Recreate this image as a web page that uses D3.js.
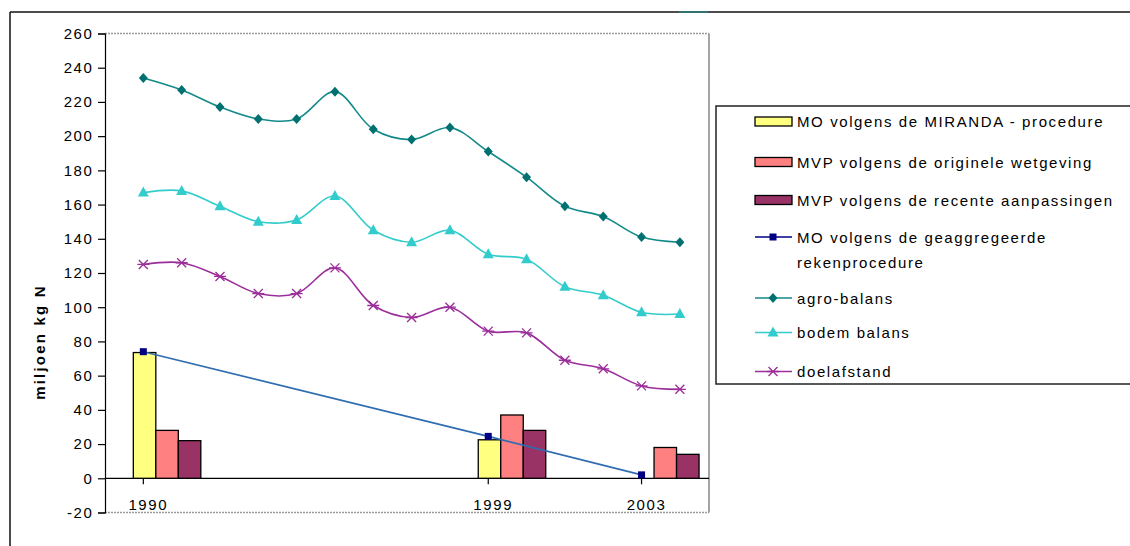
<!DOCTYPE html>
<html>
<head>
<meta charset="utf-8">
<script src="https://cdn.jsdelivr.net/npm/d3@7"></script>
<style>
  html,body{margin:0;padding:0;background:#fff;}
  svg{display:block;font-family:"Liberation Sans",Arial,sans-serif;}
  .tick-label{font-size:15px;letter-spacing:1.6px;fill:#000;}
  .legend-label{font-size:15px;letter-spacing:1.6px;fill:#000;}
</style>
</head>
<body>
<div id="chart"></div>
<script>
/* N-surplus chart: bars for 3 procedures, smoothed lines for the balances. */
var years=[1990,1991,1992,1993,1994,1995,1996,1997,1998,1999,2000,2001,2002,2003,2004];
var agroBalans=[234,227,217,210,210,226,204,198,205,191,176,159,153,141,138];
var bodemBalans=[167,168,159,150,151,165,145,138,145,131,128,112,107,97,96];
var doelafstand=[125,126,118,108,108,123,101,94,100,86,85,69,64,54,52];

var barYears=[1990,1999,2003];
var moMiranda=[73.5,22.5,null];
var mvpOrigineel=[28,37,18];
var mvpRecent=[22,28,14];

var moGeaggr=[74,24.5,2];

var yTicks=[-20,0,20,40,60,80,100,120,140,160,180,200,220,240,260];
var xLabelYears=[1990,1999,2003];

var W=1130,H=546;
var svg=d3.select("#chart").append("svg").attr("width",W).attr("height",H);

// outer frame (only top and left visible)
svg.append("line").attr("x1",10).attr("y1",12).attr("x2",W).attr("y2",12).attr("stroke","#111").attr("stroke-width",1.5);
svg.append("line").attr("x1",10).attr("y1",12).attr("x2",10).attr("y2",H).attr("stroke","#111").attr("stroke-width",1.5);
svg.append("line").attr("x1",679).attr("y1",12).attr("x2",708).attr("y2",12).attr("stroke","#2a7f80").attr("stroke-width",1.5);

var L=105,R=709,T=33.5,B=512.5;
var x=d3.scaleLinear().domain([1989,2004.76]).range([L,R]);
var y=d3.scaleLinear().domain([-20,260]).range([B,T]);

// plot area border
svg.append("line").attr("x1",L).attr("x2",R).attr("y1",T).attr("y2",T).attr("stroke","#9a9a9a").attr("stroke-width",1.5).attr("stroke-dasharray","2,1");
svg.append("line").attr("x1",L).attr("x2",R).attr("y1",B).attr("y2",B).attr("stroke","#9a9a9a").attr("stroke-width",1.5).attr("stroke-dasharray","2,1");
svg.append("line").attr("x1",R).attr("x2",R).attr("y1",T).attr("y2",B).attr("stroke","#9a9a9a").attr("stroke-width",1.8);

// y axis (plain hyphen for negatives, as in the source)
var yAxis=d3.axisLeft(y).tickValues(yTicks).tickSize(7).tickPadding(6).tickFormat(function(d){return String(d);});
var ga=svg.append("g").attr("transform","translate("+L+",0)").call(yAxis);
ga.select(".domain").attr("stroke","#000").attr("stroke-width",1.2);
ga.selectAll(".tick line").attr("stroke","#000").attr("stroke-width",1.2);
ga.selectAll(".tick text").attr("class","tick-label").attr("font-family",null).attr("font-size",null).attr("dx","1.5px");

// zero line and x ticks
svg.append("line").attr("x1",L).attr("x2",R).attr("y1",y(0)).attr("y2",y(0)).attr("stroke","#000").attr("stroke-width",1.2);
var xt=svg.append("g").selectAll("g").data(xLabelYears).enter().append("g");
xt.append("line").attr("x1",function(d){return x(d);}).attr("x2",function(d){return x(d);})
  .attr("y1",y(0)).attr("y2",y(0)+6).attr("stroke","#000").attr("stroke-width",1.2);
xt.append("text").attr("class","tick-label").attr("text-anchor","middle")
  .attr("x",function(d){return x(d)+5;}).attr("y",510).text(function(d){return d;});

// axis title
svg.append("text").attr("transform","translate(45,342) rotate(-90)").attr("text-anchor","middle")
  .style("font-size","15px").style("font-weight","bold").style("letter-spacing","2.2px").text("miljoen kg N");

// bars
var barSeries=[
  {name:"MO volgens de MIRANDA - procedure",values:moMiranda,color:"#ffff80"},
  {name:"MVP volgens de originele wetgeving",values:mvpOrigineel,color:"#ff8080"},
  {name:"MVP volgens de recente aanpassingen",values:mvpRecent,color:"#993366"}
];
var inner=d3.scaleBand().domain(barSeries.map(function(s){return s.name;})).range([-10,57.5]);
barSeries.forEach(function(s){
  var pts=barYears.map(function(yr,i){return {year:yr,v:s.values[i]};}).filter(function(d){return d.v!=null;});
  svg.append("g").selectAll("rect").data(pts).enter().append("rect")
    .attr("x",function(d){return x(d.year)+inner(s.name);})
    .attr("width",inner.bandwidth())
    .attr("y",function(d){return y(d.v);})
    .attr("height",function(d){return y(0)-y(d.v);})
    .attr("fill",s.color).attr("stroke","#000").attr("stroke-width",1.3);
});

// lines
var smooth=d3.line().x(function(d){return x(d[0]);}).y(function(d){return y(d[1]);}).curve(d3.curveCatmullRom.alpha(0.5));
var straight=d3.line().x(function(d){return x(d[0]);}).y(function(d){return y(d[1]);});

function marker(g,type,color,cx,cy){
  if(type==="square"){
    g.append("rect").attr("x",cx-3.5).attr("y",cy-3.5).attr("width",7).attr("height",7).attr("fill",color);
  }else if(type==="diamond"){
    g.append("path").attr("d","M"+cx+","+(cy-5)+"L"+(cx+4.5)+","+cy+"L"+cx+","+(cy+5)+"L"+(cx-4.5)+","+cy+"Z").attr("fill",color);
  }else if(type==="triangle"){
    g.append("path").attr("d","M"+cx+","+(cy-6)+"L"+(cx+5.5)+","+(cy+4)+"L"+(cx-5.5)+","+(cy+4)+"Z").attr("fill",color);
  }else if(type==="x"){
    g.append("path").attr("d","M"+(cx-4.5)+","+(cy-4.5)+"L"+(cx+4.5)+","+(cy+4.5)+"M"+(cx+4.5)+","+(cy-4.5)+"L"+(cx-4.5)+","+(cy+4.5)+"M"+(cx-6)+","+cy+"L"+(cx+6)+","+cy)
      .attr("stroke",color).attr("stroke-width",1.3).attr("fill","none");
  }
}

var lineSeries=[
  {name:"MO volgens de geaggregeerde",name2:"rekenprocedure",xs:barYears,values:moGeaggr,color:"#2f6db0",mcolor:"#000080",marker:"square",gen:straight},
  {name:"agro-balans",xs:years,values:agroBalans,color:"#138a8a",mcolor:"#007070",marker:"diamond",gen:smooth},
  {name:"bodem balans",xs:years,values:bodemBalans,color:"#33cccc",mcolor:"#33cccc",marker:"triangle",gen:smooth},
  {name:"doelafstand",xs:years,values:doelafstand,color:"#9b2e9b",mcolor:"#9b2e9b",marker:"x",gen:smooth}
];
lineSeries.forEach(function(s){
  var pts=s.xs.map(function(yr,i){return [yr,s.values[i]];});
  svg.append("path").datum(pts).attr("d",s.gen).attr("fill","none").attr("stroke",s.color).attr("stroke-width",1.6);
  var mg=svg.append("g");
  pts.forEach(function(p){marker(mg,s.marker,s.mcolor,x(p[0]),y(p[1]));});
});

// legend
var lg=svg.append("g");
lg.append("rect").attr("x",716).attr("y",106).attr("width",W).attr("height",278).attr("fill","#fff").attr("stroke","#222").attr("stroke-width",1.5);
var rowY=[121.5,162,200,237,298,332.5,371.5];
barSeries.forEach(function(s,i){
  lg.append("rect").attr("x",755).attr("y",rowY[i]-4.5).attr("width",37).attr("height",9).attr("fill",s.color).attr("stroke","#000").attr("stroke-width",1.3);
  lg.append("text").attr("class","legend-label").attr("x",797).attr("y",rowY[i]+5.5).text(s.name);
});
lineSeries.forEach(function(s,i){
  var ry=rowY[i+3];
  lg.append("line").attr("x1",755).attr("x2",792).attr("y1",ry).attr("y2",ry).attr("stroke",s.marker==="square"?"#000080":s.color).attr("stroke-width",1.5);
  marker(lg,s.marker,s.mcolor,773,ry);
  lg.append("text").attr("class","legend-label").attr("x",797).attr("y",ry+5.5).text(s.name);
  if(s.name2) lg.append("text").attr("class","legend-label").attr("x",797).attr("y",ry+30.5).text(s.name2);
});
</script>
</body>
</html>
